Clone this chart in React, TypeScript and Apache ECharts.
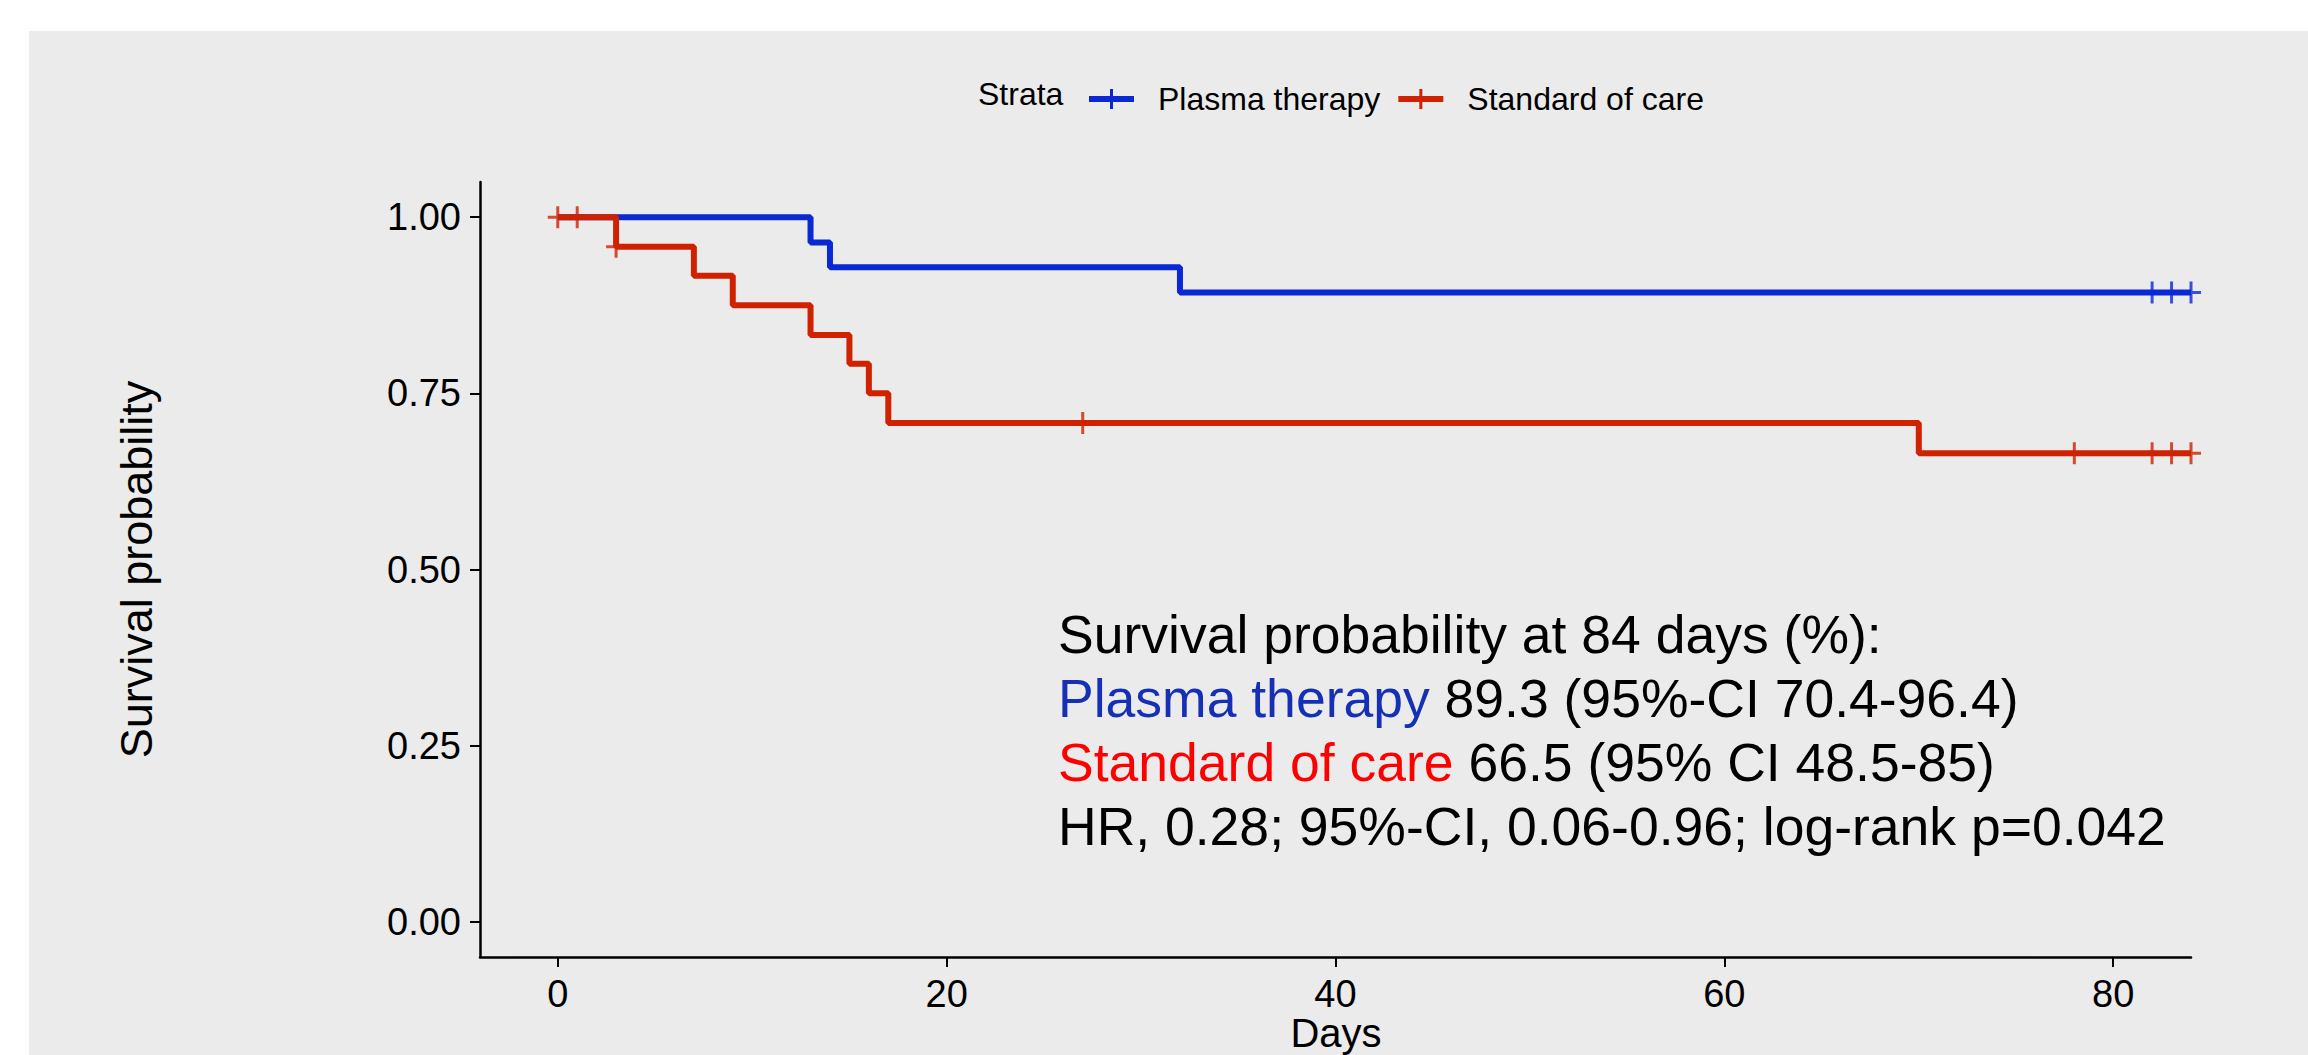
import React, { useEffect, useRef } from "react";
import * as echarts from "echarts";

// ---- Data ----
const plasmaTimes = [0, 13, 14, 32, 84];
const plasmaSurv = [1, 0.964, 0.929, 0.893, 0.893];
const plasmaCensor = [82, 83, 84];

const socTimes = [0, 3, 7, 9, 13, 15, 16, 17, 70, 84];
const socSurv = [1, 0.958, 0.917, 0.875, 0.833, 0.792, 0.75, 0.708, 0.665, 0.665];
const socCensor = [0, 1, 3, 27, 78, 82, 83, 84];

const xTicks = [0, 20, 40, 60, 80];
const yTicks = [0, 0.25, 0.5, 0.75, 1];

const seriesNames = ["Plasma therapy", "Standard of care"];
const legendTitle = "Strata";
const xTitle = "Days";
const yTitle = "Survival probability";

const annotationLines = [
  "Survival probability at 84 days (%):",
  "{b|Plasma therapy} 89.3 (95%-CI 70.4-96.4)",
  "{r|Standard of care} 66.5 (95% CI 48.5-85)",
  "HR, 0.28; 95%-CI, 0.06-0.96; log-rank p=0.042",
];

const BLUE = "#0A28D4";
const RED = "#CF2200";
const FONT = "'Liberation Sans', Arial, sans-serif";
const ANN_SIZE = 53.5;

function survAt(times: number[], surv: number[], t: number) {
  let v = surv[0];
  for (let i = 0; i < times.length; i++) if (times[i] <= t) v = surv[i];
  return v;
}

const crossSymbol =
  "path://M-1.5,-11 H1.5 V-1.5 H10 V1.5 H1.5 V11 H-1.5 V1.5 H-10 V-1.5 H-1.5 Z";
const legendIcon = "path://M0,7 H21 V0 H24 V7 H45 V13 H24 V20 H21 V13 H0 Z";

export default function App() {
  const ref = useRef<HTMLDivElement>(null);
  useEffect(() => {
    document.body.style.margin = "0";
    const chart = echarts.init(ref.current!, null, { renderer: "svg" });
    const option: any = {
      animation: false,
      backgroundColor: "#ffffff",
      grid: {
        left: 480,
        right: 117,
        top: 182,
        bottom: 98,
        containLabel: false,
        outerBoundsMode: "none",
      },
      legend: {
        data: seriesNames,
        left: 1084,
        top: 78,
        itemWidth: 45,
        itemHeight: 20,
        itemGap: 18,
        icon: legendIcon,
        textStyle: { fontSize: 32, fontFamily: FONT, color: "#000", padding: [0, 0, 0, 19] },
      },
      xAxis: {
        type: "value",
        min: -4,
        max: 84,
        axisLine: { onZero: false, lineStyle: { color: "#000", width: 2.5 } },
        axisTick: { length: 10, lineStyle: { color: "#000", width: 2 }, customValues: xTicks },
        axisLabel: { fontSize: 38, fontFamily: FONT, color: "#000", margin: 18, customValues: xTicks },
        splitLine: { show: false },
      },
      yAxis: {
        type: "value",
        min: -0.05,
        max: 1.05,
        name: yTitle,
        nameLocation: "middle",
        nameGap: 321,
        nameTextStyle: { fontSize: 45, fontFamily: FONT, color: "#000" },
        axisLine: { show: true, onZero: false, lineStyle: { color: "#000", width: 2.5 } },
        axisTick: { show: true, length: 10, lineStyle: { color: "#000", width: 2 }, customValues: yTicks },
        axisLabel: {
          fontSize: 38,
          fontFamily: FONT,
          color: "#000",
          margin: 19,
          customValues: yTicks,
          formatter: (v: number) => v.toFixed(2),
        },
        splitLine: { show: false },
      },
      graphic: [
        {
          type: "rect",
          z: -10,
          silent: true,
          shape: { x: 29, y: 31, width: 2279, height: 1024 },
          style: { fill: "#EBEBEB" },
        },
        {
          type: "text",
          x: 978,
          y: 94,
          style: { text: legendTitle, fontSize: 32, fontFamily: FONT, fill: "#000", verticalAlign: "middle" },
        },
        {
          type: "text",
          x: 1336,
          y: 1053,
          style: {
            text: xTitle,
            fontSize: 40,
            fontFamily: FONT,
            fill: "#000",
            align: "center",
            verticalAlign: "bottom",
          },
        },
        ...annotationLines.map((t, i) => ({
          type: "text",
          x: 1058,
          y: 634 + i * 64,
          z: 10,
          style: {
            text: t,
            fontSize: ANN_SIZE,
            fontFamily: FONT,
            fill: "#000",
            verticalAlign: "middle",
            rich: {
              b: { fill: "#1530B5", fontSize: ANN_SIZE, fontFamily: FONT },
              r: { fill: "#FF0000", fontSize: ANN_SIZE, fontFamily: FONT },
            },
          },
        })),
      ],
      series: [
        {
          name: seriesNames[0],
          type: "line",
          step: "end",
          showSymbol: false,
          symbol: "none",
          color: BLUE,
          lineStyle: { color: BLUE, width: 6 },
          data: plasmaTimes.map((t, i) => [t, plasmaSurv[i]]),
          z: 2,
        },
        {
          name: seriesNames[0] + " censored",
          type: "scatter",
          symbol: crossSymbol,
          symbolSize: [20, 22],
          itemStyle: { color: BLUE },
          data: plasmaCensor.map((t) => [t, survAt(plasmaTimes, plasmaSurv, t)]),
          z: 3,
        },
        {
          name: seriesNames[1],
          type: "line",
          step: "end",
          showSymbol: false,
          symbol: "none",
          color: RED,
          lineStyle: { color: RED, width: 6 },
          data: socTimes.map((t, i) => [t, socSurv[i]]),
          z: 4,
        },
        {
          name: seriesNames[1] + " censored",
          type: "scatter",
          symbol: crossSymbol,
          symbolSize: [20, 22],
          itemStyle: { color: RED },
          data: socCensor.map((t) => [t, survAt(socTimes, socSurv, t)]),
          z: 5,
        },
      ],
    };
    chart.setOption(option);
    return () => chart.dispose();
  }, []);
  return (
    <div
      ref={ref}
      style={{ position: "fixed", left: 0, top: 0, width: 2308, height: 1055 }}
    />
  );
}
